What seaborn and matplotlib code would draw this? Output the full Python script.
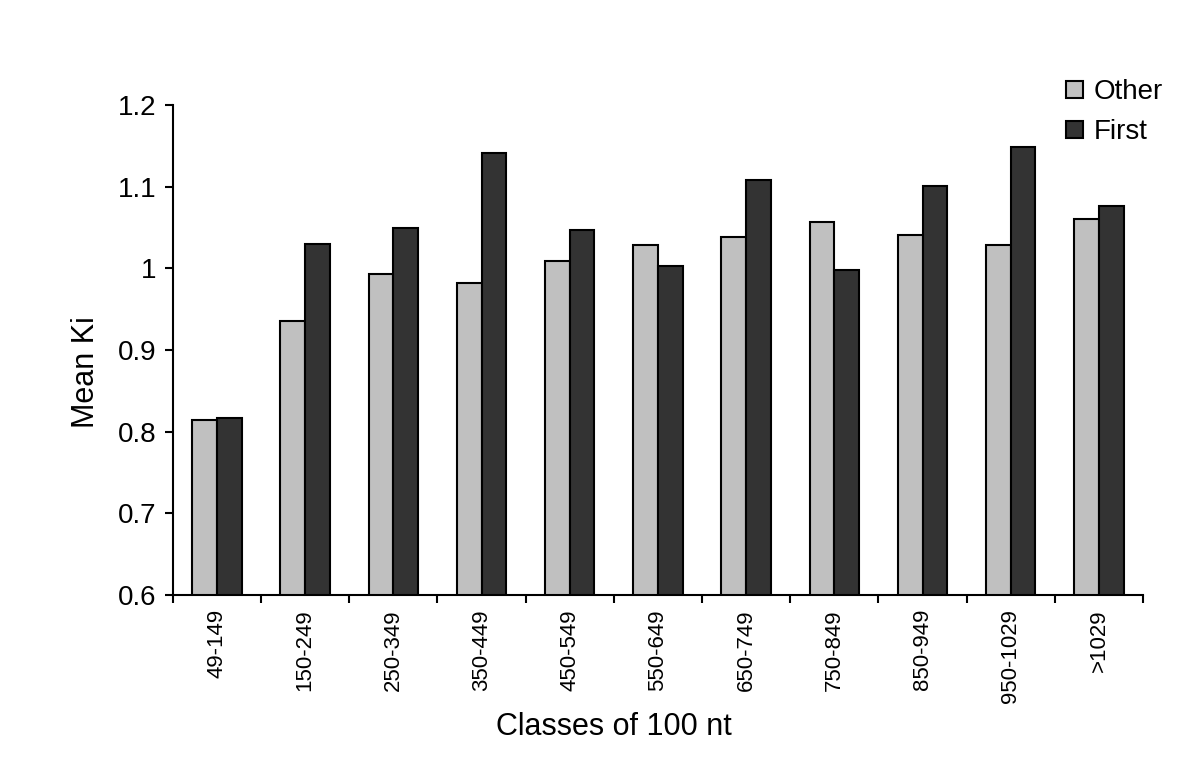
import matplotlib
matplotlib.use('Agg')
import matplotlib.pyplot as plt
import seaborn as sns
import pandas as pd
from matplotlib.ticker import FixedLocator

classes = ['49-149', '150-249', '250-349', '350-449', '450-549', '550-649',
           '650-749', '750-849', '850-949', '950-1029', '>1029']
other = [0.814, 0.935, 0.993, 0.982, 1.009, 1.028, 1.038, 1.057, 1.041, 1.028, 1.060]
first = [0.817, 1.030, 1.049, 1.141, 1.047, 1.003, 1.108, 0.998, 1.101, 1.149, 1.076]

df = pd.DataFrame({
    'cls': classes * 2,
    'ki': other + first,
    'grp': ['Other'] * len(classes) + ['First'] * len(classes),
})

sns.set_style('white')
plt.rcParams['font.family'] = ['Liberation Sans', 'DejaVu Sans']
plt.rcParams['text.color'] = 'black'
plt.rcParams['axes.labelcolor'] = 'black'
plt.rcParams['xtick.color'] = 'black'
plt.rcParams['ytick.color'] = 'black'

fig = plt.figure(figsize=(12, 7.77), dpi=100)
ax = fig.add_axes([0.144, 0.234, 0.8085, 0.631])
sns.barplot(data=df, x='cls', y='ki', hue='grp', order=classes,
            hue_order=['Other', 'First'],
            palette={'Other': '#c0c0c0', 'First': '#333333'},
            width=0.56, edgecolor='black', linewidth=1.5, ax=ax)

ax.set_ylim(0.6, 1.2)
ax.set_xlim(-0.5, len(classes) - 0.5)
ax.set_yticks([0.6, 0.7, 0.8, 0.9, 1.0, 1.1, 1.2])
ax.set_yticklabels(['0.6', '0.7', '0.8', '0.9', '1', '1.1', '1.2'], fontsize=20)
ax.tick_params(axis='y', length=6, width=1.5, direction='out', left=True, pad=6)
ax.tick_params(axis='x', which='major', length=0, labelsize=16, pad=10)
ax.xaxis.set_minor_locator(FixedLocator([i - 0.5 for i in range(len(classes) + 1)]))
ax.tick_params(axis='x', which='minor', length=6, width=1.5, direction='out', bottom=True)
plt.setp(ax.get_xticklabels(), rotation=90)

for s in ['top', 'right']:
    ax.spines[s].set_visible(False)
for s in ['left', 'bottom']:
    ax.spines[s].set_linewidth(1.5)
    ax.spines[s].set_color('black')

ax.set_xlabel('Classes of 100 nt', fontsize=22)
ax.set_ylabel('Mean Ki', fontsize=22)
ax.xaxis.set_label_coords(0.455, -0.239)
ax.yaxis.set_label_coords(-0.074, 0.455)

ax.legend(loc='upper right', bbox_to_anchor=(0.99, 0.93), bbox_transform=fig.transFigure,
          frameon=False, fontsize=20, handlelength=0.6, handleheight=0.6,
          handletextpad=0.4, labelspacing=0.5)

fig.savefig('out.png', dpi=100)
